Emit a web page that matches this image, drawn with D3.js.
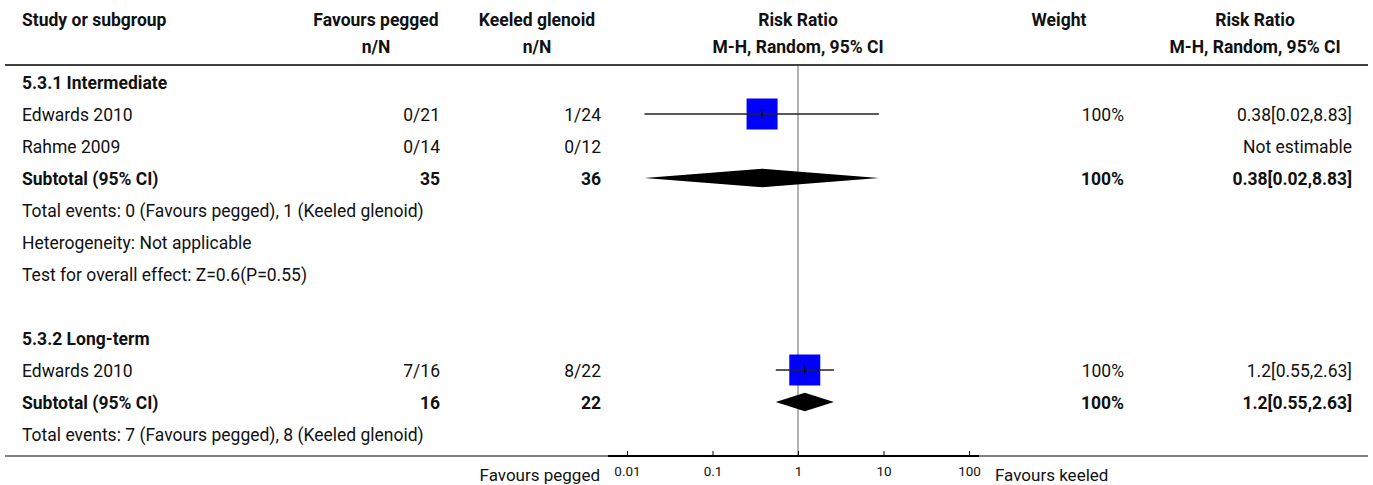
<!DOCTYPE html>
<html>
<head>
  <meta charset="utf-8">
  <title>Forest plot - Risk Ratio</title>
  <script src="https://d3js.org/d3.v7.min.js"></script>
  <style>
    body { margin: 0; background: #fff; }
    svg text { font-family: Roboto, "Liberation Sans", sans-serif; fill: #111; }
    .bold { font-weight: bold; }
  </style>
</head>
<body>
<script>
  // ---- data ----
  var groupNames = ["5.3.1 Intermediate", "5.3.2 Long-term"];

  var studyNames   = ["Edwards 2010", "Rahme 2009", "Edwards 2010"];
  var studyGroup   = [0, 0, 1];
  var peggedEvents = ["0/21", "0/14", "7/16"];
  var keeledEvents = ["1/24", "0/12", "8/22"];
  var studyRR      = [0.38, null, 1.2];
  var studyLo      = [0.016, null, 0.55];
  var studyHi      = [8.83, null, 2.63];
  var studyWeight  = [100, null, 100];
  var studyLabels  = ["0.38[0.02,8.83]", "Not estimable", "1.2[0.55,2.63]"];

  var subPeggedN = [35, 16];
  var subKeeledN = [36, 22];
  var subRR      = [0.38, 1.2];
  var subLo      = [0.016, 0.55];
  var subHi      = [8.83, 2.63];
  var subLabels  = ["0.38[0.02,8.83]", "1.2[0.55,2.63]"];

  var groupNotes = [
    ["Total events: 0 (Favours pegged), 1 (Keeled glenoid)",
     "Heterogeneity: Not applicable",
     "Test for overall effect: Z=0.6(P=0.55)"],
    ["Total events: 7 (Favours pegged), 8 (Keeled glenoid)"]
  ];

  var tickValues = [0.01, 0.1, 1, 10, 100];
  var tickLabels = ["0.01", "0.1", "1", "10", "100"];

  // ---- layout ----
  var width = 1373, height = 485;
  var fs = 17.5;
  var col = { label: 22, c1: 440, c1h: 376, c2: 601, c2h: 537, rr: 798, w: 1124, wh: 1059, ci: 1352, cih: 1255 };
  var ruleTop = 65, axisY = 456;

  var svg = d3.select("body").append("svg")
    .attr("width", width)
    .attr("height", height);

  var x = d3.scaleLog().domain([0.01, 100]).range([627, 969]);
  var rowY = d3.scaleLinear().domain([0, 1]).range([89, 121]);
  var boxSize = d3.scaleSqrt().domain([0, 100]).range([0, 31]);

  // build row list
  var rows = [];
  groupNames.forEach(function(g, gi) {
    rows.push({ type: "group", text: g });
    studyNames.forEach(function(s, si) {
      if (studyGroup[si] === gi) rows.push({ type: "study", i: si });
    });
    rows.push({ type: "subtotal", i: gi });
    groupNotes[gi].forEach(function(n) { rows.push({ type: "note", text: n }); });
    if (gi < groupNames.length - 1) rows.push({ type: "blank" });
  });

  function addText(t, xx, yy, anchor, bold, size) {
    svg.append("text")
      .attr("x", xx).attr("y", yy)
      .attr("text-anchor", anchor || "start")
      .attr("class", bold ? "bold" : null)
      .style("font-size", (size || fs) + "px")
      .text(t);
  }

  // header
  addText("Study or subgroup", col.label, 26, "start", true);
  addText("Favours pegged", col.c1h, 26, "middle", true);
  addText("n/N", col.c1h, 53, "middle", true);
  addText("Keeled glenoid", col.c2h, 26, "middle", true);
  addText("n/N", col.c2h, 53, "middle", true);
  addText("Risk Ratio", col.rr, 26, "middle", true);
  addText("M-H, Random, 95% CI", col.rr, 53, "middle", true);
  addText("Weight", col.wh, 26, "middle", true);
  addText("Risk Ratio", col.cih, 26, "middle", true);
  addText("M-H, Random, 95% CI", col.cih, 53, "middle", true);

  svg.append("line")
    .attr("x1", 5).attr("x2", 1368)
    .attr("y1", ruleTop).attr("y2", ruleTop)
    .attr("stroke", "#000").attr("stroke-width", 1.5);

  // line of no effect
  svg.append("line")
    .attr("x1", x(1)).attr("x2", x(1))
    .attr("y1", ruleTop + 1).attr("y2", axisY)
    .attr("stroke", "#999").attr("stroke-width", 1.5);

  rows.forEach(function(r, k) {
    var yb = rowY(k);
    var yc = yb - 7;
    if (r.type === "group") {
      addText(r.text, col.label, yb, "start", true);
    } else if (r.type === "note") {
      addText(r.text, col.label, yb, "start", false);
    } else if (r.type === "study") {
      var i = r.i;
      addText(studyNames[i], col.label, yb, "start", false);
      addText(peggedEvents[i], col.c1, yb, "end", false);
      addText(keeledEvents[i], col.c2, yb, "end", false);
      if (studyWeight[i] != null) addText(studyWeight[i] + "%", col.w, yb, "end", false);
      addText(studyLabels[i], col.ci, yb, "end", false);
      if (studyRR[i] != null) {
        var s = boxSize(studyWeight[i]);
        svg.append("rect")
          .attr("x", x(studyRR[i]) - s / 2).attr("y", yc - s / 2)
          .attr("width", s).attr("height", s)
          .attr("fill", "#0000ff");
        svg.append("line")
          .attr("x1", x(studyLo[i])).attr("x2", x(studyHi[i]))
          .attr("y1", yc).attr("y2", yc)
          .attr("stroke", "#222").attr("stroke-width", 1.3);
        svg.append("line")
          .attr("x1", x(studyRR[i])).attr("x2", x(studyRR[i]))
          .attr("y1", yc - 5).attr("y2", yc + 5)
          .attr("stroke", "#000").attr("stroke-width", 1);
      }
    } else if (r.type === "subtotal") {
      var g = r.i;
      addText("Subtotal (95% CI)", col.label, yb, "start", true);
      addText(subPeggedN[g], col.c1, yb, "end", true);
      addText(subKeeledN[g], col.c2, yb, "end", true);
      addText("100%", col.w, yb, "end", true);
      addText(subLabels[g], col.ci, yb, "end", true);
      var h = 9.3;
      var pts = [[x(subLo[g]), yc], [x(subRR[g]), yc - h], [x(subHi[g]), yc], [x(subRR[g]), yc + h]];
      svg.append("path")
        .attr("d", d3.line()(pts) + "Z")
        .attr("fill", "#000");
    }
  });

  // bottom rule and axis
  svg.append("line")
    .attr("x1", 5).attr("x2", 1368)
    .attr("y1", axisY).attr("y2", axisY)
    .attr("stroke", "#000").attr("stroke-width", 1.2);

  var axis = d3.axisTop(x)
    .tickValues(tickValues)
    .tickFormat(function(d, i) { return tickLabels[i]; })
    .tickSize(5)
    .tickSizeOuter(0);

  var ax = svg.append("g")
    .attr("transform", "translate(0," + axisY + ")")
    .call(axis);
  ax.select(".domain").remove();
  ax.selectAll(".tick line").attr("stroke", "#000");
  ax.selectAll(".tick text")
    .attr("y", 20)
    .attr("dy", 0)
    .style("font-family", "Roboto, sans-serif")
    .style("font-size", "13.5px")
    .attr("fill", "#111");

  svg.append("line")
    .attr("x1", 608).attr("x2", 979)
    .attr("y1", axisY).attr("y2", axisY)
    .attr("stroke", "#000").attr("stroke-width", 2.2);

  addText("Favours pegged", 600, 481, "end", false, 17);
  addText("Favours keeled", 995, 481, "start", false, 17);
</script>
</body>
</html>
